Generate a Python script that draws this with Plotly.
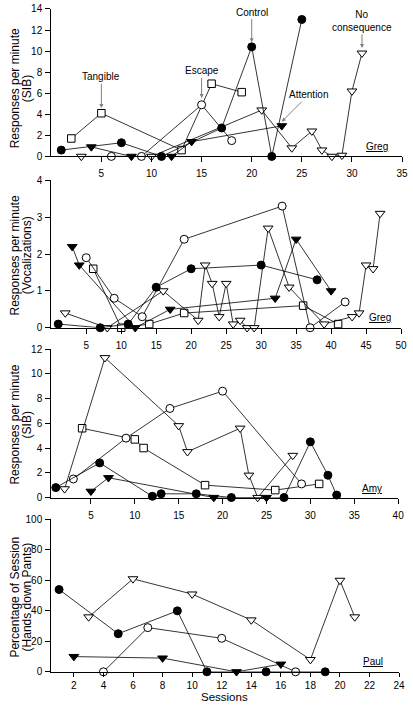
import plotly.graph_objects as go

W, H = 413, 708

# ---------------- Panel 1: Greg SIB ----------------
p1_control_x = [1, 7, 11, 17, 20, 22, 25]
p1_control_y = [0.6, 1.3, 0, 2.7, 10.4, 0, 13]
p1_tangible_x = [2, 5, 13, 16, 19]
p1_tangible_y = [1.7, 4.1, 0.6, 6.9, 6.1]
p1_escape_x = [6, 9, 15, 18]
p1_escape_y = [0, 0, 4.9, 1.5]
p1_attention_x = [4, 8, 12, 14, 23]
p1_attention_y = [0.9, 0, 0, 1.4, 2.9]
p1_nocons_x = [3, 10, 21, 24, 26, 27, 28, 29, 30, 31]
p1_nocons_y = [0, 0, 4.4, 0.8, 2.4, 0.6, 0, 0.1, 6.2, 9.8]

# ---------------- Panel 2: Greg Vocalizations ----------------
p2_control_x = [1, 7, 11, 15, 20, 30, 38]
p2_control_y = [0.1, 0, 0.1, 1.1, 1.6, 1.7, 1.3]
p2_attention_x = [3, 4, 12, 17, 32, 35, 40]
p2_attention_y = [2.2, 1.7, 0, 0.5, 0.8, 2.4, 1.0]
p2_escape_x = [5, 9, 13, 19, 33, 37, 42]
p2_escape_y = [1.9, 0.8, 0.3, 2.4, 3.3, 0, 0.7]
p2_tangible_x = [6, 10, 14, 19, 36, 41]
p2_tangible_y = [1.6, 0, 0.1, 0.4, 0.6, 0.1]
p2_nocons_x = [2, 8, 16, 21, 22, 23, 24, 25, 26, 27, 28, 29, 31, 34, 39, 43, 44, 45, 46, 47]
p2_nocons_y = [0.4, 0, 1.0, 0.2, 1.7, 1.2, 0.3, 1.2, 0.1, 0.2, 0, 0, 2.7, 1.1, 0.1, 0.3, 0.4, 1.7, 1.6, 3.1]

# ---------------- Panel 3: Amy SIB ----------------
p3_control_x = [1, 6, 12, 13, 17, 21, 27, 30, 32, 33]
p3_control_y = [0.8, 2.8, 0.1, 0.3, 0.3, 0, 0, 4.5, 1.8, 0.2]
p3_attention_x = [5, 7, 19, 25]
p3_attention_y = [0.5, 1.6, 0, 0]
p3_escape_x = [3, 9, 14, 20, 29]
p3_escape_y = [1.5, 4.8, 7.2, 8.6, 1.1]
p3_tangible_x = [4, 10, 11, 18, 26, 31]
p3_tangible_y = [5.6, 4.7, 4.0, 1.0, 0.6, 1.1]
p3_nocons_x = [2, 6.6, 15, 16, 22, 23, 24, 28]
p3_nocons_y = [0.7, 11.3, 5.8, 3.7, 5.6, 1.8, 0, 3.4]

# ---------------- Panel 4: Paul (Hands down Pants) ----------------
p4_control_x = [1, 5, 9, 11, 15, 19]
p4_control_y = [54, 25, 40, 0, 0, 0]
p4_attention_x = [2, 8, 13, 16]
p4_attention_y = [10, 9, 0, 5]
p4_escape_x = [4, 7, 12, 17]
p4_escape_y = [0, 29, 22, 0]
p4_nocons_x = [3, 6, 10, 14, 18, 20, 21]
p4_nocons_y = [36, 61, 51, 34, 8, 60, 36]

# tick labels
p1_xticks = [5, 10, 15, 20, 25, 30, 35]
p1_yticks = [0, 2, 4, 6, 8, 10, 12, 14]
p2_xticks = [5, 10, 15, 20, 25, 30, 35, 40, 45, 50]
p2_yticks = [0, 1, 2, 3, 4]
p3_xticks = [5, 10, 15, 20, 25, 30, 35, 40]
p3_yticks = [0, 2, 4, 6, 8, 10, 12]
p4_xticks = [2, 4, 6, 8, 10, 12, 14, 16, 18, 20, 22, 24]
p4_yticks = [0, 20, 40, 60, 80, 100]

FONT = "Liberation Sans, Arial, Helvetica, sans-serif"

STYLES = {
    "control": dict(symbol="circle", size=8, color="black", line=dict(color="black", width=1)),
    "escape": dict(symbol="circle", size=8, color="white", line=dict(color="black", width=1)),
    "attention": dict(symbol="triangle-down", size=8.5, color="black", line=dict(color="black", width=1)),
    "nocons": dict(symbol="triangle-down", size=8.5, color="white", line=dict(color="black", width=1)),
    "tangible": dict(symbol="square", size=7.5, color="white", line=dict(color="black", width=1)),
}

fig = go.Figure()


def add(xs, ys, kind, axis):
    fig.add_trace(go.Scatter(
        x=xs, y=ys, mode="lines+markers",
        line=dict(color="black", width=0.8),
        marker=STYLES[kind],
        cliponaxis=False, showlegend=False, hoverinfo="skip",
        xaxis="x" + axis, yaxis="y" + axis,
    ))


add(p1_tangible_x, p1_tangible_y, "tangible", "")
add(p1_nocons_x, p1_nocons_y, "nocons", "")
add(p1_escape_x, p1_escape_y, "escape", "")
add(p1_attention_x, p1_attention_y, "attention", "")
add(p1_control_x, p1_control_y, "control", "")

add(p2_tangible_x, p2_tangible_y, "tangible", "2")
add(p2_nocons_x, p2_nocons_y, "nocons", "2")
add(p2_escape_x, p2_escape_y, "escape", "2")
add(p2_attention_x, p2_attention_y, "attention", "2")
add(p2_control_x, p2_control_y, "control", "2")

add(p3_tangible_x, p3_tangible_y, "tangible", "3")
add(p3_nocons_x, p3_nocons_y, "nocons", "3")
add(p3_escape_x, p3_escape_y, "escape", "3")
add(p3_attention_x, p3_attention_y, "attention", "3")
add(p3_control_x, p3_control_y, "control", "3")

add(p4_nocons_x, p4_nocons_y, "nocons", "4")
add(p4_escape_x, p4_escape_y, "escape", "4")
add(p4_attention_x, p4_attention_y, "attention", "4")
add(p4_control_x, p4_control_y, "control", "4")


def px_x(a, b):
    return [a / W, b / W]


def px_y(top, bottom):
    return [1 - bottom / H, 1 - top / H]


def axstyle(ticklen=5, standoff=1):
    return dict(showline=True, linecolor="black", linewidth=1, ticks="outside",
                ticklen=ticklen, tickwidth=1, tickcolor="black", showgrid=False,
                zeroline=False, ticklabelstandoff=standoff,
                tickfont=dict(family=FONT, size=10, color="black"))


fig.update_layout(
    width=W, height=H, margin=dict(l=0, r=0, t=0, b=0),
    plot_bgcolor="white", paper_bgcolor="white",
    font=dict(family=FONT, color="black"),
    xaxis=dict(domain=px_x(52, 408), range=[0, 35], tickvals=p1_xticks, anchor="y", **axstyle(5, 3)),
    yaxis=dict(domain=px_y(3, 153), range=[0, 14], tickvals=p1_yticks, anchor="x", **axstyle(5, 1)),
    xaxis2=dict(domain=px_x(52, 407), range=[0, 50], tickvals=p2_xticks, anchor="y2", **axstyle(5, 3)),
    yaxis2=dict(domain=px_y(177.3, 327.3), range=[0, 4], tickvals=p2_yticks, anchor="x2", **axstyle(5, 1)),
    xaxis3=dict(domain=px_x(52, 404), range=[0.48, 40], tickvals=p3_xticks, anchor="y3", **axstyle(5, 3)),
    yaxis3=dict(domain=px_y(349, 500), range=[0, 12], tickvals=p3_yticks, anchor="x3", **axstyle(5, 1)),
    xaxis4=dict(domain=px_x(52, 405), range=[0.47, 24], tickvals=p4_xticks, anchor="y4", **axstyle(4, 0)),
    yaxis4=dict(domain=px_y(522.3, 677.3), range=[0, 100], tickvals=p4_yticks, anchor="x4", **axstyle(5, 1)),
)

ann = []
arrow = dict(showarrow=True, arrowhead=2, arrowsize=0.8, arrowwidth=1, arrowcolor="#7f7f7f",
             font=dict(family=FONT, size=10, color="black"), xref="x", yref="y", axref="pixel", ayref="pixel")
ann.append(dict(text="Tangible", x=5, y=4.6, ax=0, ay=-31, **arrow))
ann.append(dict(text="Escape", x=15, y=5.55, ax=0, ay=-27, **arrow))
ann.append(dict(text="Control", x=20, y=10.85, ax=0, ay=-30, **arrow))
ann.append(dict(text="Attention", x=23, y=3.3, ax=27, ay=-27, **arrow))
ann.append(dict(text="No<br>consequence", x=31, y=10.3, ax=0, ay=-27, **arrow))


def label(text, xpx, ypx, size=10, angle=0, pad=1):
    ann.append(dict(text=text, x=xpx / W, y=1 - ypx / H, xref="paper", yref="paper",
                    showarrow=False, textangle=angle, xanchor="center", yanchor="middle",
                    borderpad=pad, font=dict(family=FONT, size=size, color="black")))


label("<u>Greg</u>", 383, 143)
label("<u>Greg</u>", 386, 317)
label("<u>Amy</u>", 377, 491)
label("<u>Paul</u>", 378, 667)

label("Responses per minute", 15, 84, 12, -90)
label("(SIB)", 27, 84, 12, -90)
label("Responses per minute", 15, 254, 12, -90)
label("(Vocalizations)", 27, 254, 12, -90)
label("Responses per minute", 15, 426, 12, -90)
label("(SIB)", 27, 426, 12, -90)
label("Percentage of Session", 15, 601, 12, -90)
label("(Hands down Pants)", 27, 601, 12, -90)
label("Sessions", 228, 703, 11.5, 0, 0)

fig.update_layout(annotations=ann)
fig.write_html("out.html", config={"displayModeBar": False, "staticPlot": True},
               post_script="document.body.style.margin='0';document.body.style.overflow='hidden';")
